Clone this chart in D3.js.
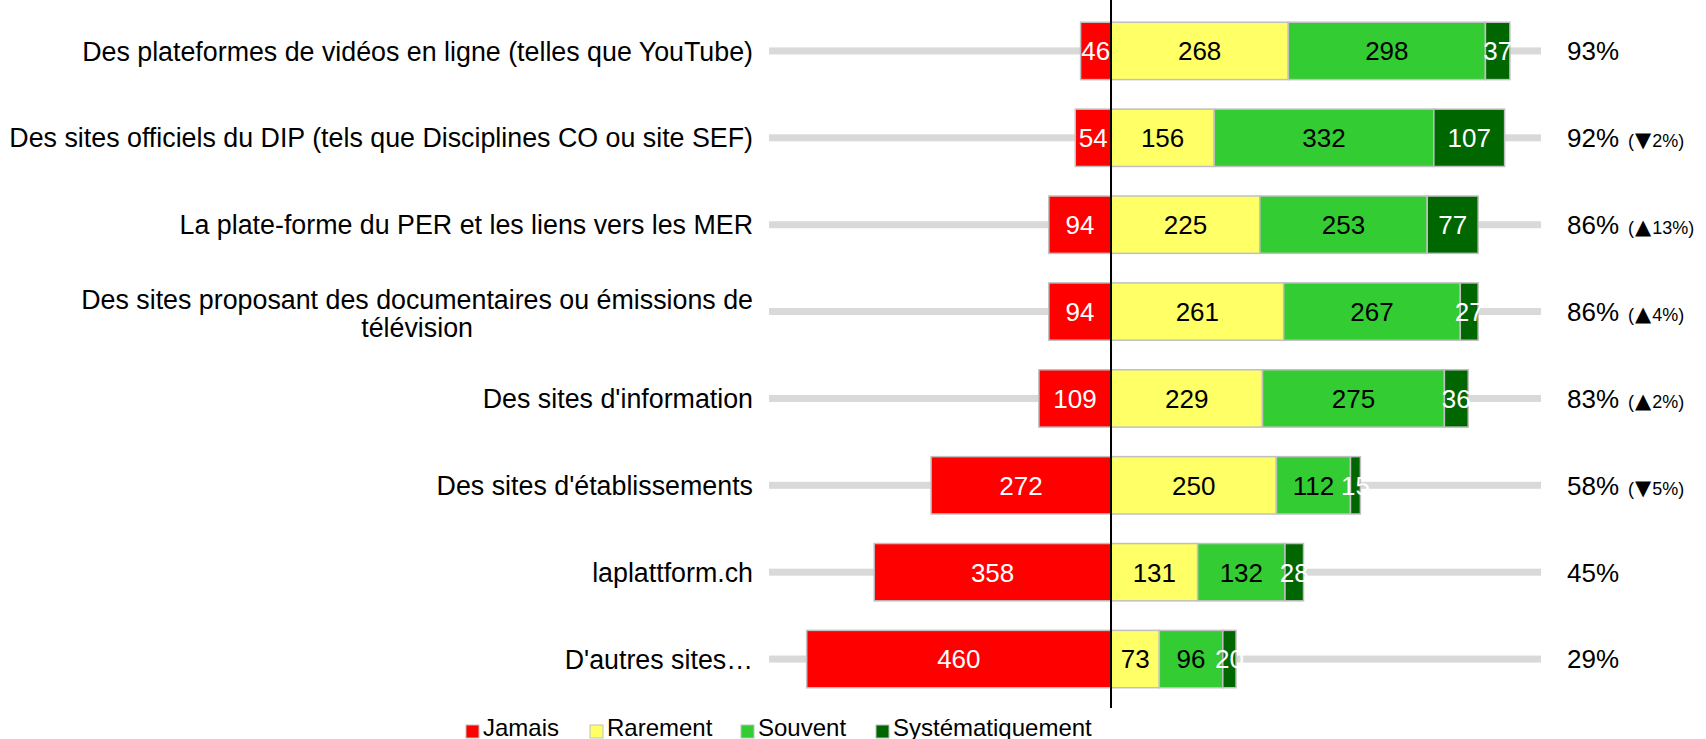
<!DOCTYPE html>
<html>
<head>
<meta charset="utf-8">
<script src="https://cdn.jsdelivr.net/npm/d3@7"></script>
<style>
  body { margin: 0; background: #fff; }
  text { font-family: "Liberation Sans", Arial, sans-serif; }
</style>
</head>
<body>
<svg id="chart"></svg>
<script>
// data
const categories = [
  "Des plateformes de vidéos en ligne (telles que YouTube)",
  "Des sites officiels du DIP (tels que Disciplines CO ou site SEF)",
  "La plate-forme du PER et les liens vers les MER",
  "Des sites proposant des documentaires ou émissions de|télévision",
  "Des sites d'information",
  "Des sites d'établissements",
  "laplattform.ch",
  "D'autres sites…"
];
const jamais = [46, 54, 94, 94, 109, 272, 358, 460];
const rarement = [268, 156, 225, 261, 229, 250, 131, 73];
const souvent = [298, 332, 253, 267, 275, 112, 132, 96];
const systematiquement = [37, 107, 77, 27, 36, 15, 28, 20];
const totals = ["93%", "92%", "86%", "86%", "83%", "58%", "45%", "29%"];
const deltaArrows = ["", "▼", "▲", "▲", "▲", "▼", "", ""];
const deltaValues = ["", "2%", "13%", "4%", "2%", "5%", "", ""];

const seriesNames = ["Jamais", "Rarement", "Souvent", "Systématiquement"];
const colors = ["#ff0000", "#ffff66", "#33cc33", "#006600"];
const textColors = ["#fff", "#000", "#000", "#fff"];

const width = 1706;
const height = 739;

const svg = d3.select("#chart")
  .attr("width", width)
  .attr("height", height);

// scales
const x = d3.scaleLinear()
  .domain([-517, 650])
  .range([769, 1541]);

const y = d3.scaleBand()
  .domain(d3.range(categories.length))
  .range([7.5, 702.5])
  .paddingInner(0.34)
  .paddingOuter(0.17);

// build stacked segments (Jamais to the left of zero)
const rows = categories.map((c, i) => {
  const segs = [];
  segs.push({ s: 0, x0: -jamais[i], x1: 0, v: jamais[i] });
  let acc = 0;
  [rarement, souvent, systematiquement].forEach((arr, k) => {
    segs.push({ s: k + 1, x0: acc, x1: acc + arr[i], v: arr[i] });
    acc += arr[i];
  });
  return { i, segs };
});

// gray background lines
svg.append("g")
  .selectAll("rect")
  .data(categories)
  .join("rect")
  .attr("x", x.range()[0])
  .attr("width", x.range()[1] - x.range()[0])
  .attr("y", (d, i) => y(i) + y.bandwidth() / 2 - 3.5)
  .attr("height", 7)
  .attr("fill", "#d9d9d9");

// bars
const rowG = svg.append("g")
  .selectAll("g")
  .data(rows)
  .join("g");

rowG.selectAll("rect")
  .data(d => d.segs.map(s => ({ ...s, i: d.i })))
  .join("rect")
  .attr("x", d => x(d.x0))
  .attr("width", d => x(d.x1) - x(d.x0))
  .attr("y", d => y(d.i))
  .attr("height", y.bandwidth())
  .attr("fill", d => colors[d.s])
  .attr("stroke", "#c0c0c0")
  .attr("stroke-width", 1.5);

rowG.selectAll("text")
  .data(d => d.segs.map(s => ({ ...s, i: d.i })))
  .join("text")
  .attr("x", d => (x(d.x0) + x(d.x1)) / 2)
  .attr("y", d => y(d.i) + y.bandwidth() / 2)
  .attr("dy", "0.36em")
  .attr("text-anchor", "middle")
  .attr("font-size", 26)
  .attr("fill", d => textColors[d.s])
  .text(d => d.v);

// zero line
svg.append("line")
  .attr("x1", x(0)).attr("x2", x(0))
  .attr("y1", 0).attr("y2", 708)
  .attr("stroke", "#000")
  .attr("stroke-width", 2);

// category labels
const labelRight = 753;
svg.append("g")
  .selectAll("text")
  .data(categories)
  .join("text")
  .attr("font-size", 26.8)
  .attr("fill", "#000")
  .each(function(d, i) {
    const t = d3.select(this);
    const lines = d.split("|");
    const cy = y(i) + y.bandwidth() / 2;
    if (lines.length === 1) {
      t.attr("x", labelRight).attr("y", cy).attr("dy", "0.36em")
        .attr("text-anchor", "end").text(d);
    } else {
      const lh = 27.5;
      t.attr("text-anchor", "middle");
      const spans = lines.map((ln, k) => t.append("tspan")
        .attr("y", cy + 2 + (k - (lines.length - 1) / 2) * lh)
        .attr("dy", "0.36em")
        .text(ln));
      const maxW = d3.max(spans, s => s.node().getComputedTextLength());
      spans.forEach(s => s.attr("x", labelRight - maxW / 2));
    }
  });

// totals and deltas on the right
const pct = svg.append("g")
  .selectAll("text")
  .data(totals)
  .join("text")
  .attr("x", 1567)
  .attr("y", (d, i) => y(i) + y.bandwidth() / 2)
  .attr("dy", "0.36em")
  .attr("font-size", 26)
  .attr("fill", "#000");
pct.append("tspan").text(d => d);
pct.each(function(d, i) {
  if (!deltaArrows[i]) return;
  const t = d3.select(this);
  t.append("tspan").attr("font-size", 18).attr("dx", 9).text("(");
  t.append("tspan").attr("font-size", 21).attr("dx", 1)
    .style("font-family", "'DejaVu Sans', sans-serif")
    .text(deltaArrows[i]);
  t.append("tspan").attr("font-size", 18).attr("dx", 1).text(deltaValues[i] + ")");
});

// legend
const legendX = [466, 590, 741, 876];
const legend = svg.append("g")
  .selectAll("g")
  .data(seriesNames)
  .join("g")
  .attr("transform", (d, i) => `translate(${legendX[i]},725)`);
legend.append("rect")
  .attr("width", 13).attr("height", 13)
  .attr("fill", (d, i) => colors[i])
  .attr("stroke", "#c0c0c0")
  .attr("stroke-width", 1);
legend.append("text")
  .attr("x", 17)
  .attr("y", 11)
  .attr("font-size", 24)
  .attr("fill", "#000")
  .text(d => d);
</script>
</body>
</html>
